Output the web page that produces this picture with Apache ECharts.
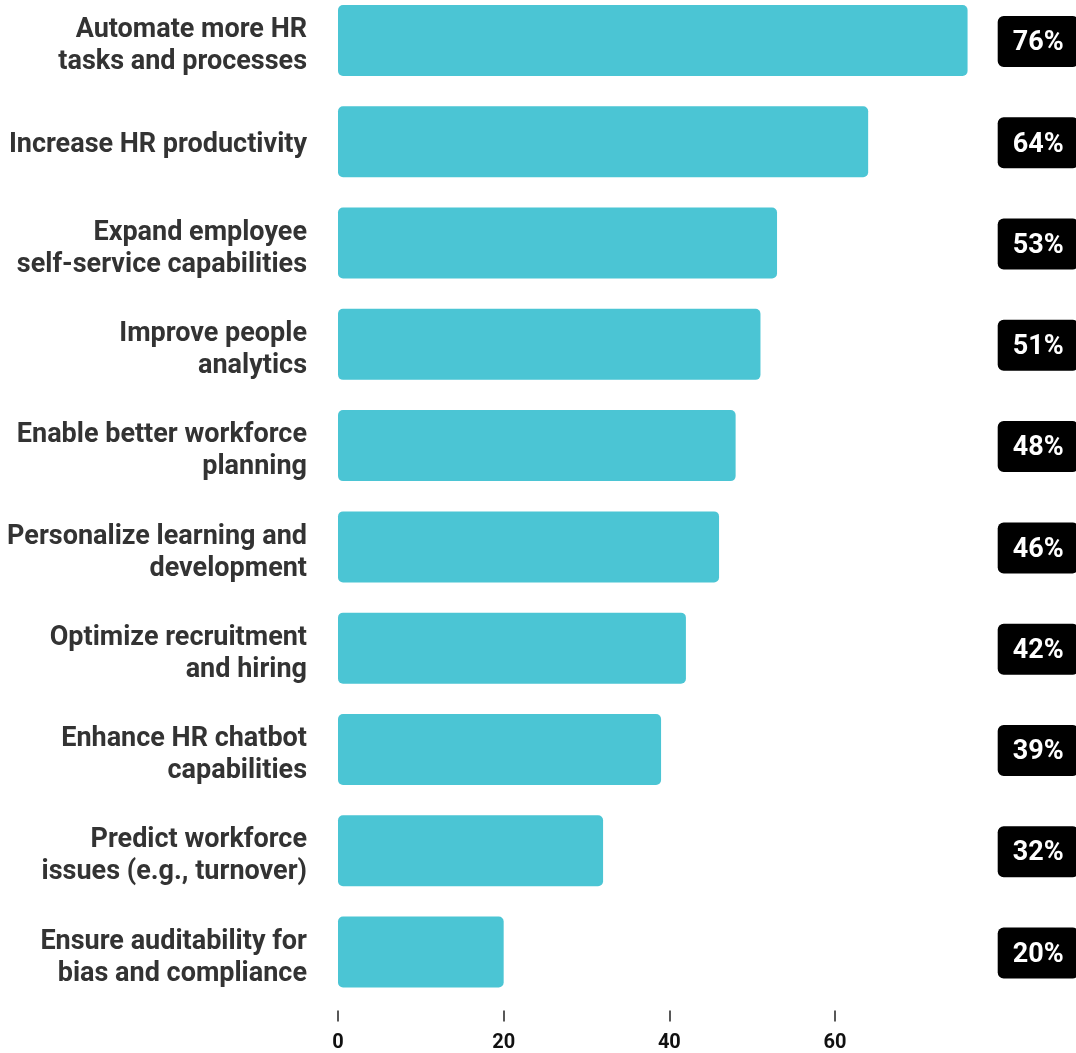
<!DOCTYPE html>
<html>
<head>
<meta charset="utf-8">
<script src="https://cdn.jsdelivr.net/npm/echarts@6/dist/echarts.min.js"></script>
<style>
  html, body { margin: 0; padding: 0; background: #fff; }
  #chart { width: 1076px; height: 1053px; }
</style>
</head>
<body>
<div id="chart"></div>
<script>
// Priorities for AI in HR, share of respondents (%)
const categories = [
  'Automate more HR\ntasks and processes',
  'Increase HR productivity',
  'Expand employee\nself-service capabilities',
  'Improve people\nanalytics',
  'Enable better workforce\nplanning',
  'Personalize learning and\ndevelopment',
  'Optimize recruitment\nand hiring',
  'Enhance HR chatbot\ncapabilities',
  'Predict workforce\nissues (e.g., turnover)',
  'Ensure auditability for\nbias and compliance'
];
const values = [76, 64, 53, 51, 48, 46, 42, 39, 32, 20];
const tickValues = [0, 20, 40, 60];

const valueLabels = values.map(v => v + '%');
const FONT = 'Roboto';

// Category label: a thin spacer line on top nudges the text block down a little
function categoryLabel(text) {
  const lines = text.split('\n');
  const spacer = lines.length > 1 ? '{gap2| }' : '{gap1| }';
  return [spacer].concat(lines.map(l => '{c|' + l + '}')).join('\n');
}

const chart = echarts.init(document.getElementById('chart'));
chart.setOption({
  animation: false,
  backgroundColor: '#ffffff',
  textStyle: { fontFamily: FONT },
  grid: {
    left: 338, right: 75.3, top: -10.1, bottom: 50.4,
    containLabel: false,
    outerBoundsMode: 'none'
  },
  xAxis: {
    type: 'value',
    min: 0,
    max: 80,
    interval: 20,
    offset: 8,
    axisLine: { show: false },
    splitLine: { show: false },
    axisTick: {
      show: true,
      customValues: tickValues,
      length: 11,
      lineStyle: { color: '#222', width: 1.5 }
    },
    axisLabel: {
      customValues: tickValues,
      margin: 22,
      color: '#111',
      fontSize: 20,
      fontWeight: 'bold',
      fontFamily: FONT
    }
  },
  yAxis: [
    {
      type: 'category',
      inverse: true,
      data: categories,
      axisLine: { show: false },
      axisTick: { show: false },
      axisLabel: {
        margin: 31,
        align: 'right',
        formatter: categoryLabel,
        rich: {
          gap1: { fontSize: 1, lineHeight: 6 },
          gap2: { fontSize: 1, lineHeight: 12 },
          c: {
            color: '#333333',
            fontSize: 27,
            lineHeight: 32,
            fontWeight: 'bold',
            fontFamily: FONT,
            align: 'right'
          }
        }
      }
    },
    {
      type: 'category',
      inverse: true,
      position: 'right',
      data: valueLabels,
      axisLine: { show: false },
      axisTick: { show: false },
      axisLabel: {
        margin: -3,
        align: 'left',
        formatter: v => '{gap| }\n{b|' + v + '}',
        rich: {
          gap: { fontSize: 1, lineHeight: 2 },
          b: {
            color: '#ffffff',
            fontSize: 27,
            lineHeight: 27,
            fontWeight: 'bold',
            fontFamily: FONT,
            backgroundColor: '#000000',
            borderRadius: 6,
            padding: [14, 15, 10, 15]
          }
        }
      }
    }
  ],
  series: [
    {
      type: 'bar',
      yAxisIndex: 0,
      data: values,
      barWidth: 71,
      itemStyle: { color: '#4BC5D4', borderRadius: 5 },
      label: { show: false }
    }
  ]
});
</script>
</body>
</html>
